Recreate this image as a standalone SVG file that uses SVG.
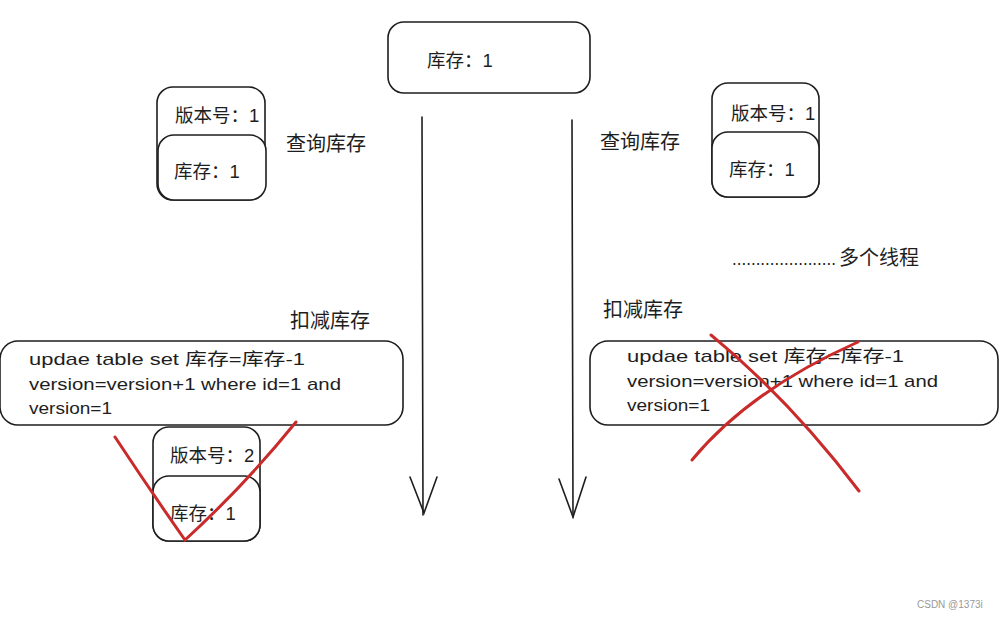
<svg xmlns="http://www.w3.org/2000/svg" width="1003" height="618" viewBox="0 0 1003 618">
<style>
.box{fill:#fff;stroke:#1e1e1e;stroke-width:1.6}
.t{font-family:"Liberation Sans","Noto Sans CJK SC",sans-serif;font-size:18.5px;fill:#1e1e1e}
.l{font-family:"Liberation Sans","Noto Sans CJK SC",sans-serif;font-size:20px;fill:#1e1e1e}
.c{font-family:"Liberation Sans","Noto Sans CJK SC",sans-serif;font-size:17px;fill:#1e1e1e}
.ln{stroke:#1e1e1e;stroke-width:1.6;fill:none;stroke-linecap:round}
.red{stroke:#c92a2a;stroke-width:3;fill:none;stroke-linecap:round}
</style>
<rect width="1003" height="618" fill="#fff"/>
<g id="connectors">
<path class="ln" d="M422 117 L423 515"/>
<path class="ln" d="M410 477 L424 513 L437 477"/>
<path class="ln" d="M572 120 L573 517"/>
<path class="ln" d="M559 479 L573 517 L586 477"/>
</g>
<g id="stock-top">
<rect class="box" x="388" y="22" width="202" height="71" rx="16"/>
<text class="t" x="427" y="67">库存：1</text>
</g>
<g id="left-node">
<rect class="box" x="157" y="87" width="108" height="113" rx="16"/>
<text class="t" x="175" y="122">版本号：1</text>
<rect class="box" x="158" y="135" width="108" height="65" rx="16"/>
<text class="t" x="174" y="178">库存：1</text>
</g>
<text class="l" x="286" y="151">查询库存</text>
<text class="l" x="290" y="328">扣减库存</text>
<g id="left-update">
<rect class="box" x="0" y="341" width="403" height="84" rx="18"/>
<text class="c" x="29" y="365" textLength="276" lengthAdjust="spacingAndGlyphs">updae table set 库存=库存-1</text>
<text class="c" x="29" y="390" textLength="312" lengthAdjust="spacingAndGlyphs">version=version+1 where id=1 and</text>
<text class="c" x="29" y="414" textLength="83" lengthAdjust="spacingAndGlyphs">version=1</text>
</g>
<g id="left-result">
<rect class="box" x="153" y="427" width="107" height="114" rx="16"/>
<text class="t" x="170" y="462">版本号：2</text>
<rect class="box" x="153" y="476" width="107" height="65" rx="16"/>
<text class="t" x="170" y="520">库存：1</text>
</g>
<path class="red" d="M115 437 Q150 490 185 540 Q245 485 296 422"/>
<g id="right-node">
<rect class="box" x="712" y="83" width="107" height="114" rx="16"/>
<text class="t" x="731" y="120">版本号：1</text>
<rect class="box" x="712" y="132" width="107" height="65" rx="16"/>
<text class="t" x="729" y="176">库存：1</text>
</g>
<text class="l" x="600" y="149">查询库存</text>
<text class="l" x="603" y="317">扣减库存</text>
<text class="t" x="732" y="265" font-size="9" textLength="104" lengthAdjust="spacingAndGlyphs">......................</text>
<text class="l" x="839" y="265">多个线程</text>
<g id="right-update">
<rect class="box" x="590" y="341" width="408" height="84" rx="18"/>
<text class="c" x="627" y="362" textLength="277" lengthAdjust="spacingAndGlyphs">updae table set 库存=库存-1</text>
<text class="c" x="627" y="387" textLength="311" lengthAdjust="spacingAndGlyphs">version=version+1 where id=1 and</text>
<text class="c" x="627" y="411" textLength="83" lengthAdjust="spacingAndGlyphs">version=1</text>
</g>
<path class="red" d="M711 335 Q790 400 859 491"/>
<path class="red" d="M692 460 Q750 390 858 342"/>
<text x="917" y="608" font-family="Liberation Sans,sans-serif" font-size="10" fill="#999">CSDN @1373i</text>
</svg>
